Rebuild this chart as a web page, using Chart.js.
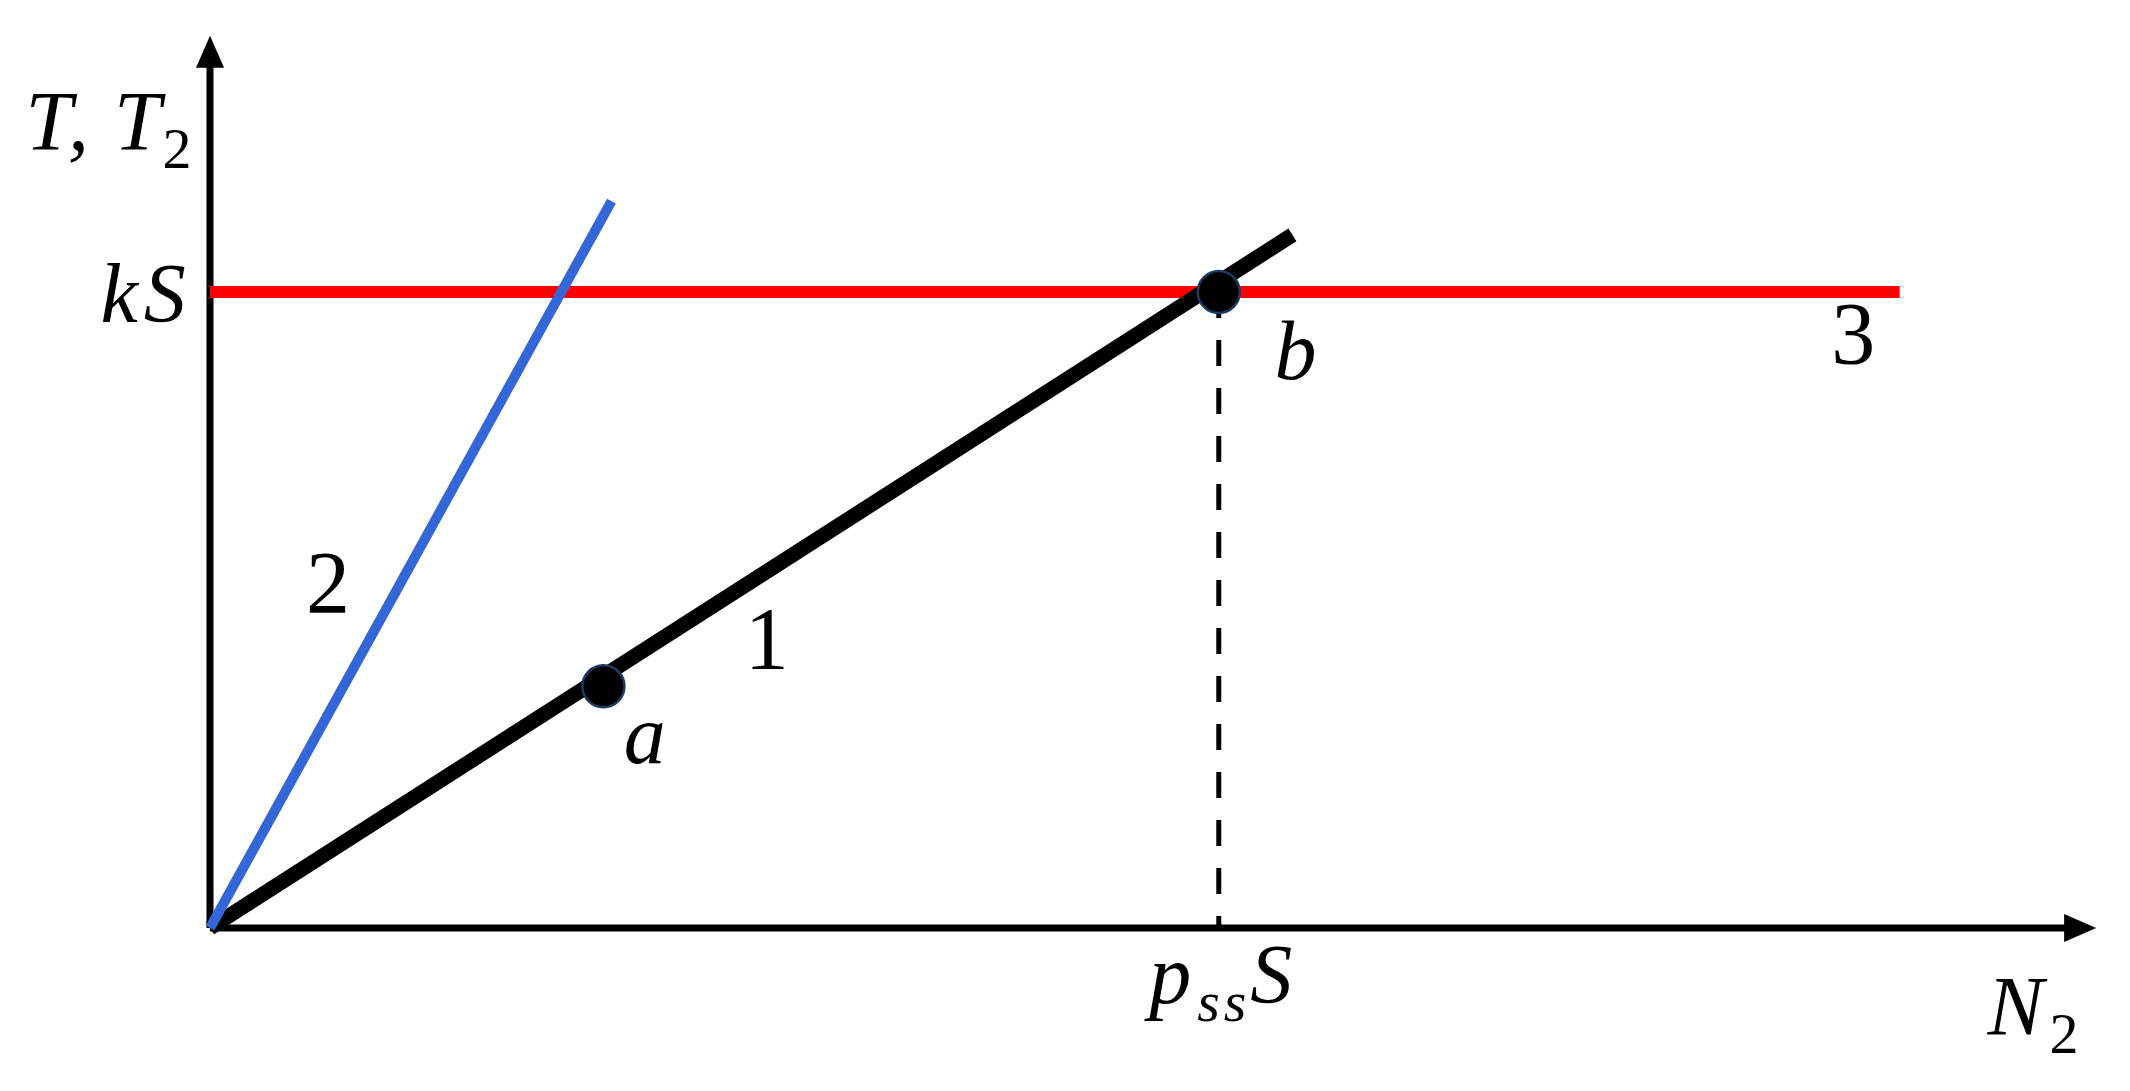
<!DOCTYPE html>
<html>
<head>
<meta charset="utf-8">
<script src="https://cdn.jsdelivr.net/npm/chart.js@4.4.1/dist/chart.umd.min.js"></script>
<style>
    html, body { margin: 0; padding: 0; background: #fff; }
    #wrap { width: 2130px; height: 1091px; }
</style>
</head>
<body>
<div id="wrap"><canvas id="diagram"></canvas></div>
<script>
    // units: x in pssS, y in kS
    var axisX = [{x: 0, y: 0}, {x: 1.840, y: 0}];
    var axisY = [{x: 0, y: 0}, {x: 0, y: 1.356}];
    var line1 = [{x: 0, y: 0}, {x: 1.073, y: 1.09}];
    var line2 = [{x: 0, y: 0}, {x: 0.398, y: 1.143}];
    var line3 = [{x: 0, y: 1}, {x: 1.675, y: 1}];
    var dropLine = [{x: 1, y: 1}, {x: 1, y: 0}];
    var keyPoints = [{x: 0.39, y: 0.38}, {x: 1, y: 1}];

    // text labels: [segments, x, y, align]
    var labels = [
        [[['T, T', 't'], ['2', 's']], -0.183, 1.223, 'left'],
        [[['kS', 'i']], -0.018, 0.953, 'right'],
        [[['p', 'i'], ['ss', 'si'], ['S', 'i']], 0.931, -0.118, 'left'],
        [[['N', 'i'], ['2', 's']], 1.762, -0.168, 'left'],
        [[['2', 'n']], 0.117, 0.497, 'center'],
        [[['1', 'n']], 0.552, 0.409, 'center'],
        [[['3', 'n']], 1.629, 0.888, 'center'],
        [[['a', 'i']], 0.434, 0.259, 'center'],
        [[['b', 'i']], 1.079, 0.864, 'center']
    ];

    var serif = '"Liberation Serif", "DejaVu Serif", serif';

    function segFont(kind) {
        if (kind == 'i' || kind == 't') return 'italic 84px ' + serif;
        if (kind == 'si') return 'italic 58px ' + serif;
        if (kind == 's') return '58px ' + serif;
        return '88px ' + serif;
    }
    function segSpacing(kind) {
        if (kind == 'i') return '6px';
        if (kind == 't') return '2px';
        if (kind == 'si') return '4px';
        return '0px';
    }

    var extras = {
        id: 'extras',
        afterDatasetsDraw: function(chart) {
            var ctx = chart.ctx;
            var xs = chart.scales.x, ys = chart.scales.y;
            ctx.save();
            ctx.fillStyle = '#000';

            // arrow heads
            var tx = xs.getPixelForValue(axisX[1].x), ty = ys.getPixelForValue(0);
            ctx.beginPath();
            ctx.moveTo(tx + 30, ty);
            ctx.lineTo(tx - 2, ty - 14);
            ctx.lineTo(tx - 2, ty + 14);
            ctx.closePath();
            ctx.fill();
            var ux = xs.getPixelForValue(0), uy = ys.getPixelForValue(axisY[1].y);
            ctx.beginPath();
            ctx.moveTo(ux, uy - 30);
            ctx.lineTo(ux - 14, uy + 2);
            ctx.lineTo(ux + 14, uy + 2);
            ctx.closePath();
            ctx.fill();

            // labels
            ctx.textBaseline = 'alphabetic';
            ctx.textAlign = 'left';
            labels.forEach(function(l) {
                var segs = l[0];
                var total = 0;
                segs.forEach(function(s) {
                    ctx.font = segFont(s[1]);
                    ctx.letterSpacing = segSpacing(s[1]);
                    total += ctx.measureText(s[0]).width;
                });
                var px = xs.getPixelForValue(l[1]);
                var py = ys.getPixelForValue(l[2]);
                if (l[3] == 'right') px -= total;
                if (l[3] == 'center') px -= total / 2;
                segs.forEach(function(s) {
                    ctx.font = segFont(s[1]);
                    ctx.letterSpacing = segSpacing(s[1]);
                    var dy = (s[1] == 's' || s[1] == 'si') ? 18 : 0;
                    ctx.fillText(s[0], px, py + dy);
                    px += ctx.measureText(s[0]).width;
                });
            });
            ctx.restore();
        }
    };

    function lineSet(data, color, width, order, dash) {
        return {
            data: data,
            showLine: true,
            borderColor: color,
            borderWidth: width,
            borderDash: dash || [],
            borderCapStyle: 'butt',
            pointRadius: 0,
            clip: false,
            order: order
        };
    }

    new Chart(document.getElementById('diagram'), {
        type: 'scatter',
        data: {
            datasets: [
                {
                    data: keyPoints,
                    pointRadius: 21,
                    pointHoverRadius: 21,
                    backgroundColor: '#000',
                    borderColor: '#1d3a63',
                    borderWidth: 2.5,
                    clip: false,
                    order: 0
                },
                lineSet(line2, '#3366d6', 10, 1),
                lineSet(line1, '#000', 15, 2),
                lineSet(line3, '#ff0000', 12, 3),
                lineSet(dropLine, '#000', 5, 4, [26, 22]),
                lineSet(axisX, '#000', 7, 5),
                lineSet(axisY, '#000', 7, 5)
            ]
        },
        options: {
            responsive: true,
            maintainAspectRatio: false,
            animation: false,
            layout: { padding: { left: 210, right: 16, top: 25, bottom: 163 } },
            plugins: { legend: { display: false }, tooltip: { enabled: false } },
            scales: {
                x: { type: 'linear', min: 0, max: 1.88, display: false },
                y: { type: 'linear', min: 0, max: 1.42, display: false }
            }
        },
        plugins: [extras]
    });
</script>
</body>
</html>
